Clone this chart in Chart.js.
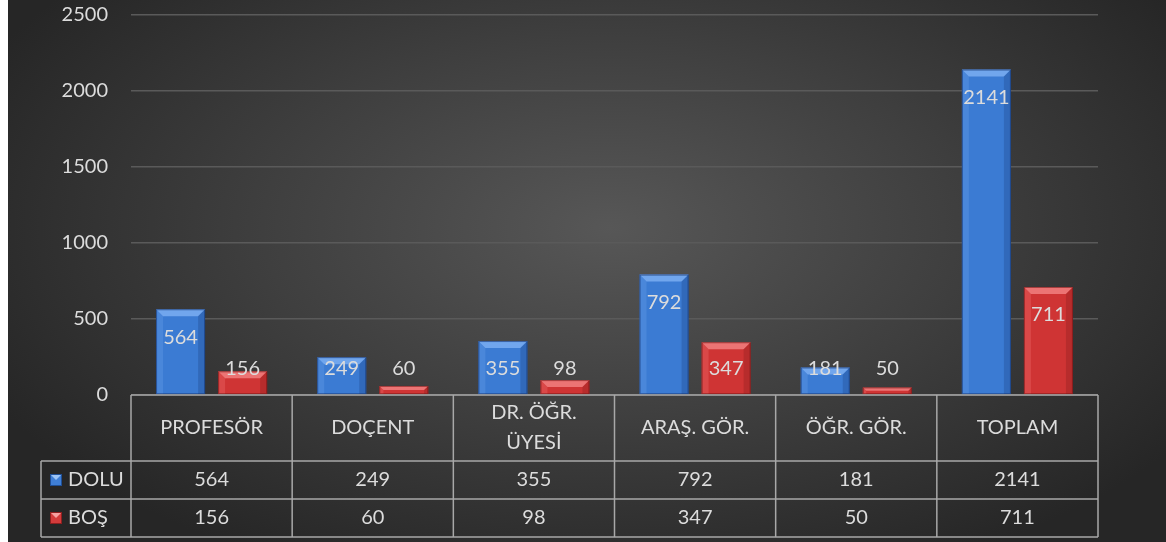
<!DOCTYPE html>
<html>
<head>
<meta charset="utf-8">
<script src="https://cdn.jsdelivr.net/npm/chart.js@4.4.0/dist/chart.umd.min.js"></script>
<style>
  html, body { margin: 0; padding: 0; background: #fff; }
  #wrap {
    position: absolute; left: 8px; top: 0; width: 1158px; height: 542px;
    background: radial-gradient(ellipse 60% 70% at 52% 42%, #575757 0%, #3f3f3f 50%, #262626 100%);
  }
</style>
</head>
<body>
<div id="wrap"><canvas id="myChart" width="1158" height="542"></canvas></div>
<script>
const categories = ["PROFESÖR", "DOÇENT", ["DR. ÖĞR.", "ÜYESİ"], "ARAŞ. GÖR.", "ÖĞR. GÖR.", "TOPLAM"];
const dolu = [564, 249, 355, 792, 181, 2141];
const bos = [156, 60, 98, 347, 50, 711];
const yTicks = [0, 500, 1000, 1500, 2000, 2500];

const FONT = "Lato, 'Open Sans', sans-serif";
const TXT = "#dcdcdc";
const LINE = "#a8a8a8";
const FS = 20;

// bevelled bars + labels inside the top
const bevelBars = {
  id: "bevelBars",
  afterDatasetsDraw(chart) {
    const ctx = chart.ctx;
    const cols = [
      { light: "rgba(150,195,255,0.6)", side: "rgba(120,170,240,0.25)", dark: "rgba(20,50,110,0.6)" },
      { light: "rgba(255,160,160,0.6)", side: "rgba(250,130,130,0.25)", dark: "rgba(110,20,20,0.6)" }
    ];
    chart.data.datasets.forEach((ds, di) => {
      const meta = chart.getDatasetMeta(di);
      meta.data.forEach((bar, i) => {
        const l = bar.x - bar.width / 2, r = bar.x + bar.width / 2;
        const t = bar.y, b = bar.base;
        const h = b - t;
        const bv = Math.min(7, h / 2);
        const c = cols[di];
        ctx.save();
        ctx.fillStyle = c.light;
        ctx.beginPath();
        ctx.moveTo(l, t); ctx.lineTo(r, t); ctx.lineTo(r - bv, t + bv); ctx.lineTo(l + bv, t + bv); ctx.closePath();
        ctx.fill();
        ctx.fillStyle = c.side;
        ctx.beginPath();
        ctx.moveTo(l, t); ctx.lineTo(l + bv, t + bv); ctx.lineTo(l + bv, b); ctx.lineTo(l, b); ctx.closePath();
        ctx.fill();
        ctx.fillStyle = c.dark;
        ctx.globalAlpha = 0.4;
        ctx.beginPath();
        ctx.moveTo(r, t); ctx.lineTo(r - bv, t + bv); ctx.lineTo(r - bv, b); ctx.lineTo(r, b); ctx.closePath();
        ctx.fill();
        ctx.globalAlpha = 1;
        ctx.strokeStyle = c.dark;
        ctx.lineWidth = 1;
        ctx.strokeRect(l + 0.5, t + 0.5, bar.width - 1, h - 1);
        ctx.fillStyle = TXT;
        ctx.font = FS + "px " + FONT;
        ctx.textAlign = "center";
        ctx.textBaseline = "middle";
        const ly = Math.min(t + 28, b - 26);
        ctx.fillText(String(ds.data[i]), bar.x, ly);
        ctx.restore();
      });
    });
  }
};

// data table under the plot
const dataTable = {
  id: "dataTable",
  afterDraw(chart) {
    const ctx = chart.ctx;
    const xs = chart.scales.x;
    const area = chart.chartArea;
    const n = categories.length;
    const step = (area.right - area.left) / n;
    const top = area.bottom, r1 = top + 66, r2 = r1 + 38, r3 = r2 + 38;
    const legL = 33;
    ctx.save();
    ctx.strokeStyle = LINE;
    ctx.lineWidth = 1.5;
    ctx.beginPath();
    ctx.moveTo(area.left, top); ctx.lineTo(area.right, top);
    [r1, r2, r3].forEach(y => { ctx.moveTo(legL, y); ctx.lineTo(area.right, y); });
    for (let k = 0; k <= n; k++) {
      const x = area.left + k * step;
      ctx.moveTo(x, top); ctx.lineTo(x, r3);
    }
    ctx.moveTo(legL, r1); ctx.lineTo(legL, r3);
    ctx.stroke();

    ctx.fillStyle = TXT;
    ctx.font = FS + "px " + FONT;
    ctx.textAlign = "center";
    ctx.textBaseline = "middle";
    categories.forEach((c, i) => {
      const x = xs.getPixelForValue(i);
      const lines = Array.isArray(c) ? c : [c];
      const mid = (top + r1) / 2;
      lines.forEach((ln, k) => {
        ctx.fillText(ln, x, mid + (k - (lines.length - 1) / 2) * 30);
      });
      ctx.fillText(String(dolu[i]), x, (r1 + r2) / 2);
      ctx.fillText(String(bos[i]), x, (r2 + r3) / 2);
    });

    const keys = [
      { y: (r1 + r2) / 2, name: "DOLU", c1: "#3f7fd6", c2: "#9cc4f5", c3: "#1f4f96" },
      { y: (r2 + r3) / 2, name: "BOŞ", c1: "#d33b3b", c2: "#f5a0a0", c3: "#8e1f1f" }
    ];
    keys.forEach(k => {
      const x0 = 42, y0 = k.y - 6, s = 12;
      ctx.fillStyle = k.c1;
      ctx.fillRect(x0, y0, s, s);
      ctx.fillStyle = k.c2;
      ctx.beginPath();
      ctx.moveTo(x0, y0); ctx.lineTo(x0 + s, y0); ctx.lineTo(x0 + s / 2, y0 + s / 2); ctx.closePath();
      ctx.fill();
      ctx.strokeStyle = k.c3;
      ctx.lineWidth = 1;
      ctx.strokeRect(x0 + 0.5, y0 + 0.5, s - 1, s - 1);
      ctx.fillStyle = TXT;
      ctx.textAlign = "left";
      ctx.fillText(k.name, x0 + 18, k.y);
    });
    ctx.restore();
  }
};

const ctx = document.getElementById("myChart").getContext("2d");
const myChart = new Chart(ctx, {
  type: "bar",
  data: {
    labels: categories,
    datasets: [{
      label: "DOLU",
      data: dolu,
      backgroundColor: "#3b7bd3",
      borderWidth: 0
    }, {
      label: "BOŞ",
      data: bos,
      backgroundColor: "#cf3434",
      borderWidth: 0
    }]
  },
  options: {
    responsive: false,
    animation: false,
    layout: { padding: { top: 15, right: 68, bottom: 147, left: 0 } },
    categoryPercentage: 0.77,
    barPercentage: 0.79,
    plugins: { legend: { display: false }, tooltip: { enabled: false } },
    scales: {
      x: {
        display: false
      },
      y: {
        min: 0,
        max: 2500,
        afterBuildTicks(scale) { scale.ticks = yTicks.map(v => ({ value: v })); },
        afterFit(scale) {
          scale.width = 123;
          scale.paddingTop = 0;
          scale.paddingBottom = 0;
        },
        border: { display: false },
        grid: { color: "#5a5a5a", lineWidth: 1.5, drawTicks: false },
        ticks: { color: TXT, font: { family: FONT, size: FS }, padding: 23, callback: v => String(v) }
      }
    }
  },
  plugins: [bevelBars, dataTable]
});
</script>
</body>
</html>
